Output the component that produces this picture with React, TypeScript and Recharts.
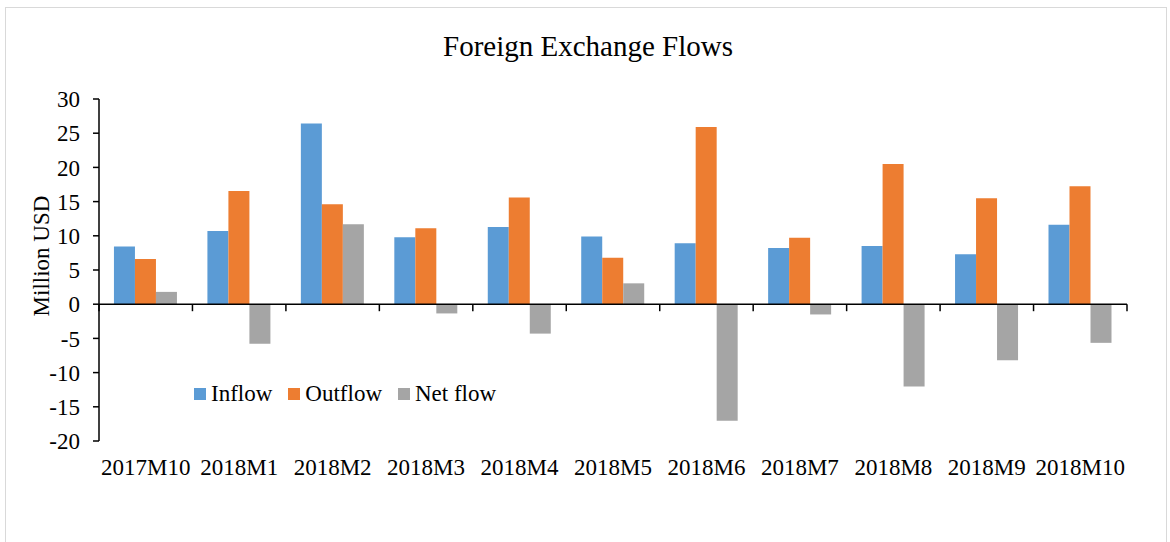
import { BarChart, Bar, XAxis, YAxis, ReferenceLine, Legend } from "recharts";

const months = [
  "2017M10", "2018M1", "2018M2", "2018M3", "2018M4", "2018M5",
  "2018M6", "2018M7", "2018M8", "2018M9", "2018M10",
];
const inflow = [8.45, 10.7, 26.4, 9.8, 11.3, 9.9, 8.9, 8.2, 8.5, 7.3, 11.6];
const outflow = [6.6, 16.55, 14.6, 11.1, 15.6, 6.8, 25.9, 9.7, 20.5, 15.5, 17.25];
const netFlow = [1.8, -5.8, 11.7, -1.35, -4.3, 3.05, -17.05, -1.5, -12.05, -8.2, -5.65];
const yTicks = [-20, -15, -10, -5, 0, 5, 10, 15, 20, 25, 30];
const seriesOrder = ["inflow", "outflow", "net"];

const data = months.map((month, i) => ({
  month,
  inflow: inflow[i],
  outflow: outflow[i],
  net: netFlow[i],
}));

const FONT = '"Liberation Serif", "Times New Roman", serif';

// zero line with Excel-style tick marks at the category boundaries
const ZeroAxis = (props: any) => {
  const { x1, y1, x2, y2 } = props;
  const step = (x2 - x1) / months.length;
  const marks = [];
  for (let i = 0; i <= months.length; i++) {
    const x = x1 + i * step;
    marks.push(<line key={i} x1={x} y1={y1} x2={x} y2={y1 + 7} stroke="#000" strokeWidth={1.5} />);
  }
  return (
    <g>
      <line x1={x1} y1={y1} x2={x2} y2={y2} stroke="#000" strokeWidth={1.5} />
      {marks}
    </g>
  );
};

const renderLegend = (props: any) => {
  const payload = [...props.payload].sort(
    (a: any, b: any) => seriesOrder.indexOf(a.dataKey) - seriesOrder.indexOf(b.dataKey)
  );
  return (
    <div style={{ display: "flex", alignItems: "center", fontFamily: FONT, fontSize: 23, lineHeight: 1, color: "#000" }}>
      {payload.map((entry: any) => (
        <div key={entry.value} style={{ display: "flex", alignItems: "center", marginRight: 16 }}>
          <span style={{ width: 12, height: 12, background: entry.color, marginRight: 5, display: "inline-block" }} />
          <span>{entry.value}</span>
        </div>
      ))}
    </div>
  );
};

const App = () => {
  return (
    <div style={{ position: "relative", width: 1170, height: 542, overflow: "hidden", background: "#fff" }}>
      <style>{`body{margin:0}`}</style>
      <div
        style={{
          position: "absolute",
          left: 5,
          top: 7,
          width: 1162,
          height: 560,
          border: "1px solid #d9d9d9",
          boxSizing: "border-box",
        }}
      />
      <div
        style={{
          position: "absolute",
          left: 3,
          top: 32,
          width: 1170,
          textAlign: "center",
          fontFamily: FONT,
          fontSize: 29,
          lineHeight: 1,
          color: "#000",
        }}
      >
        Foreign Exchange Flows
      </div>
      <BarChart
        width={1170}
        height={542}
        data={data}
        margin={{ top: 99, right: 43, bottom: 38, left: 0 }}
        barCategoryGap="16%"
        barGap={0}
        style={{ position: "absolute", left: 0, top: 0 }}
      >
        <XAxis
          dataKey="month"
          axisLine={false}
          tickLine={false}
          tickSize={0}
          tickMargin={18}
          height={40}
          interval={0}
          tick={{ fill: "#000", fontSize: 23, fontFamily: FONT }}
        />
        <YAxis
          domain={[-20, 30]}
          ticks={yTicks}
          interval={0}
          width={99}
          axisLine={{ stroke: "#000", strokeWidth: 1.5 }}
          tickLine={{ stroke: "#000", strokeWidth: 1.5 }}
          tickSize={6}
          tickMargin={13}
          tick={{ fill: "#000", fontSize: 23, fontFamily: FONT }}
          label={() => (
            <text
              x={41}
              y={256}
              transform="rotate(-90, 41, 256)"
              textAnchor="middle"
              dominantBaseline="central"
              fill="#000"
              fontSize={23}
              fontFamily={FONT}
            >
              Million USD
            </text>
          )}
        />
        <Legend
          content={renderLegend}
          wrapperStyle={{ position: "absolute", left: 194, top: 382, width: "auto" }}
        />
        <Bar dataKey="inflow" name="Inflow" fill="#5B9BD5" isAnimationActive={false} />
        <Bar dataKey="outflow" name="Outflow" fill="#ED7D31" isAnimationActive={false} />
        <Bar dataKey="net" name="Net flow" fill="#A5A5A5" isAnimationActive={false} />
        <ReferenceLine y={0} shape={ZeroAxis} />
      </BarChart>
    </div>
  );
};

export default App;
